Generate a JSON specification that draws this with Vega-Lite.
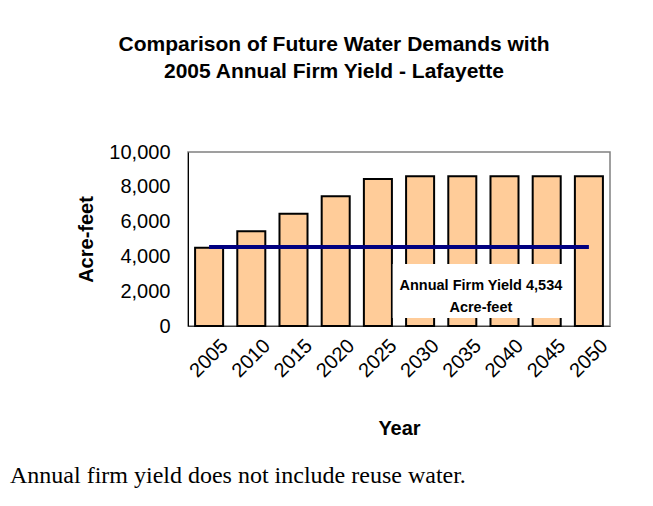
{
  "$schema": "https://vega.github.io/schema/vega-lite/v6.json",
  "background": "white",
  "padding": {"left": 10, "top": 33, "right": 5, "bottom": 5},
  "title": {
    "text": "Annual firm yield does not include reuse water.",
    "orient": "bottom", "anchor": "start", "frame": "group",
    "font": "Liberation Serif", "fontSize": 24, "fontWeight": "normal",
    "color": "black", "dx": -178, "offset": 24
  },
  "vconcat": [
    {
      "width": 422,
      "height": 174,
      "title": {
        "text": ["Comparison of Future Water Demands with", "2005 Annual Firm Yield - Lafayette"],
        "font": "Liberation Sans", "fontSize": 21, "fontWeight": "bold",
        "lineHeight": 27, "anchor": "middle", "frame": "bounds",
        "offset": 60, "dx": -10, "color": "black"
      },
      "layer": [
        {
          "data": {"values": [
            {"year": "2005", "demand": 4500, "yield": 4534},
            {"year": "2010", "demand": 5450, "yield": 4534},
            {"year": "2015", "demand": 6450, "yield": 4534},
            {"year": "2020", "demand": 7450, "yield": 4534},
            {"year": "2025", "demand": 8450, "yield": 4534},
            {"year": "2030", "demand": 8600, "yield": 4534},
            {"year": "2035", "demand": 8600, "yield": 4534},
            {"year": "2040", "demand": 8600, "yield": 4534},
            {"year": "2045", "demand": 8600, "yield": 4534},
            {"year": "2050", "demand": 8600, "yield": 4534}
          ]},
          "layer": [
            {
              "mark": {"type": "bar", "fill": "#FFCC99", "stroke": "black", "strokeWidth": 2},
              "encoding": {
                "x": {
                  "field": "year", "type": "ordinal",
                  "scale": {"paddingInner": 0.336, "paddingOuter": 0.168},
                  "axis": {
                    "title": "Year", "labelAngle": -45, "labelAlign": "center", "labelBaseline": "middle",
                    "ticks": false, "tickSize": 0, "labelPadding": 32,
                    "labelFontSize": 20, "titleFontSize": 20, "titlePadding": 38,
                    "domainColor": "#404040", "domainWidth": 1
                  }
                },
                "y": {
                  "field": "demand", "type": "quantitative",
                  "scale": {"domain": [0, 10000], "nice": false},
                  "axis": {
                    "title": "Acre-feet", "values": [0, 2000, 4000, 6000, 8000, 10000], "format": ",d",
                    "grid": false, "ticks": false, "tickSize": 0, "labelPadding": 18, "labelOverlap": false,
                    "labelFontSize": 20, "titleFontSize": 20, "titlePadding": 12,
                    "domainColor": "black", "domainWidth": 1
                  }
                }
              }
            },
            {
              "mark": {"type": "line", "color": "#000080", "strokeWidth": 4},
              "encoding": {
                "x": {"field": "year", "type": "ordinal"},
                "y": {
                  "field": "yield", "type": "quantitative",
                  "axis": {
                    "title": "Acre-feet", "values": [0, 2000, 4000, 6000, 8000, 10000], "format": ",d",
                    "grid": false, "ticks": false, "tickSize": 0, "labelPadding": 18, "labelOverlap": false,
                    "labelFontSize": 20, "titleFontSize": 20, "titlePadding": 12,
                    "domainColor": "black", "domainWidth": 1
                  }
                }
              }
            }
          ]
        },
        {
          "data": {"values": [
            {"bx0": 4.85, "bx1": 8.93, "by0": 460, "by1": 3560, "tx": 6.94, "ty": 2300, "label": "Annual Firm Yield 4,534\nAcre-feet"}
          ]},
          "layer": [
            {
              "mark": {"type": "rect", "fill": "white", "stroke": null},
              "encoding": {
                "x": {"field": "bx0", "type": "quantitative", "scale": {"domain": [0, 10], "nice": false, "zero": false}, "axis": null},
                "x2": {"field": "bx1"},
                "y": {
                  "field": "by0", "type": "quantitative",
                  "axis": {
                    "title": "Acre-feet", "values": [0, 2000, 4000, 6000, 8000, 10000], "format": ",d",
                    "grid": false, "ticks": false, "tickSize": 0, "labelPadding": 18, "labelOverlap": false,
                    "labelFontSize": 20, "titleFontSize": 20, "titlePadding": 12,
                    "domainColor": "black", "domainWidth": 1
                  }
                },
                "y2": {"field": "by1"}
              }
            },
            {
              "mark": {"type": "text", "font": "Liberation Sans", "fontSize": 14.5, "fontWeight": "bold", "lineBreak": "\n", "lineHeight": 22, "align": "center", "baseline": "middle", "color": "black"},
              "encoding": {
                "x": {"field": "tx", "type": "quantitative", "scale": {"domain": [0, 10], "nice": false, "zero": false}, "axis": null},
                "y": {
                  "field": "ty", "type": "quantitative",
                  "axis": {
                    "title": "Acre-feet", "values": [0, 2000, 4000, 6000, 8000, 10000], "format": ",d",
                    "grid": false, "ticks": false, "tickSize": 0, "labelPadding": 18, "labelOverlap": false,
                    "labelFontSize": 20, "titleFontSize": 20, "titlePadding": 12,
                    "domainColor": "black", "domainWidth": 1
                  }
                },
                "text": {"field": "label"}
              }
            }
          ]
        }
      ],
      "resolve": {"scale": {"x": "independent"}, "axis": {"x": "independent"}}
    }
  ],
  "config": {
    "font": "Liberation Sans",
    "view": {"stroke": "#808080", "strokeWidth": 1.5},
    "axis": {
      "labelFont": "Liberation Sans", "titleFont": "Liberation Sans",
      "labelColor": "black", "titleColor": "black", "titleFontWeight": "bold"
    }
  }
}
